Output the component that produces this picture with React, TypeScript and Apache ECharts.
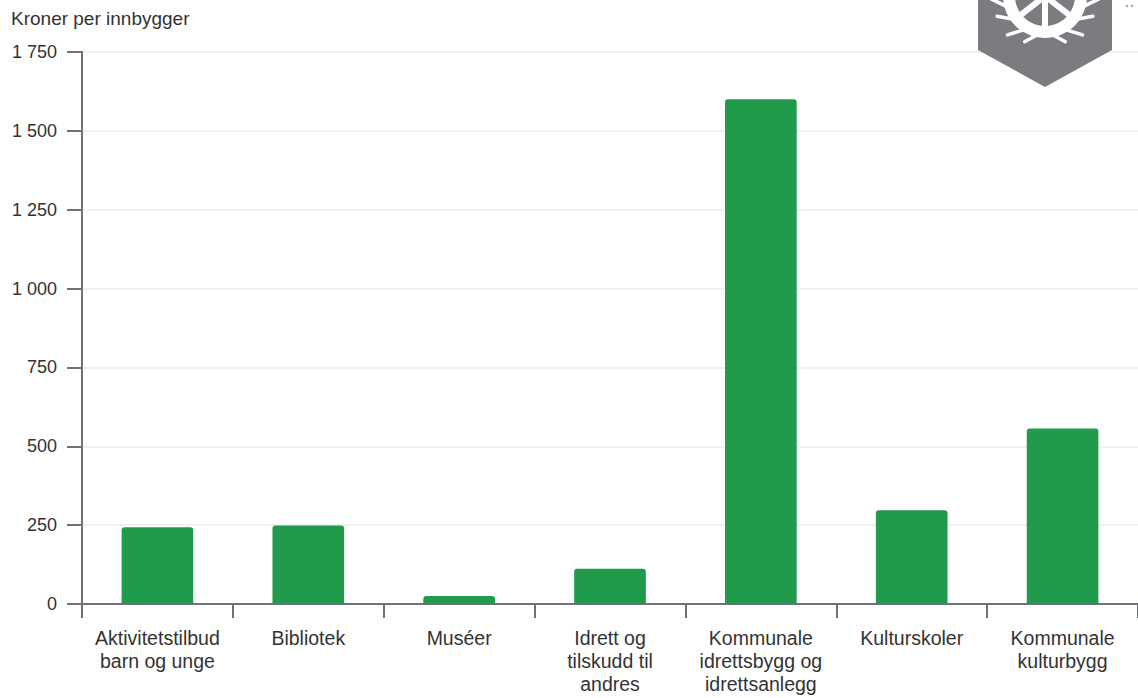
import React, { useEffect, useRef } from "react";
import * as echarts from "echarts";

const categories = [
  "Aktivitetstilbud\nbarn og unge",
  "Bibliotek",
  "Muséer",
  "Idrett og\ntilskudd til\nandres",
  "Kommunale\nidrettsbygg og\nidrettsanlegg",
  "Kulturskoler",
  "Kommunale\nkulturbygg",
];
const values = [243, 249, 25, 112, 1600, 297, 556];
const yTicks = { min: 0, max: 1750, interval: 250 };
const yTitle = "Kroner per innbygger";

const fmt = (v: number) => {
  const s = String(Math.round(v));
  return s.replace(/\B(?=(\d{3})+(?!\d))/g, " ");
};

export default function App() {
  const ref = useRef<HTMLDivElement>(null);
  useEffect(() => {
    if (!ref.current) return;
    const chart = echarts.init(ref.current, undefined, { renderer: "svg" });
    const axisGray = "#6d7378";
    const logoGray = "#7b7c80";
    const cx = 1045;
    const cy = -4;
    const spokes: any[] = [];
    [90, 38, 142].forEach((deg) => {
      const r = (deg * Math.PI) / 180;
      spokes.push({
        type: "line",
        shape: { x1: cx, y1: cy, x2: cx + Math.cos(r) * 38, y2: cy + Math.sin(r) * 38 },
        style: { stroke: "#fff", lineWidth: 6 },
        z: 12,
      });
    });
    const thorns: any[] = [];
    [[15, 14], [35, 12], [58, 14], [78, 10], [102, 10], [122, 14], [145, 12], [165, 14]].forEach(([deg, len]) => {
      const r = (deg * Math.PI) / 180;
      const r2 = ((deg + (deg < 90 ? -12 : 12)) * Math.PI) / 180;
      thorns.push({
        type: "line",
        shape: {
          x1: cx + Math.cos(r) * 40,
          y1: cy + Math.sin(r) * 40,
          x2: cx + Math.cos(r2) * (40 + len),
          y2: cy + Math.sin(r2) * (40 + len),
        },
        style: { stroke: "#fff", lineWidth: 3.5, lineCap: "round" },
        z: 12,
      });
    });
    const font = "Liberation Sans";
    chart.setOption({
      animation: false,
      title: {
        text: yTitle,
        left: 11,
        top: 9,
        padding: 0,
        textStyle: { fontFamily: font, fontSize: 19, fontWeight: "normal", color: "#333" },
      },
      grid: { left: 82, right: -3, top: 52, bottom: 94, containLabel: false },
      xAxis: {
        type: "category",
        data: categories,
        boundaryGap: true,
        axisLine: { show: true, lineStyle: { color: axisGray, width: 2 } },
        axisTick: { show: true, alignWithLabel: false, length: 14, lineStyle: { color: axisGray, width: 2 } },
        axisLabel: {
          interval: 0,
          margin: 22,
          fontFamily: font,
          fontSize: 19.5,
          lineHeight: 23,
          color: "#333",
          align: "center",
        },
      },
      yAxis: {
        type: "value",
        min: yTicks.min,
        max: yTicks.max,
        interval: yTicks.interval,
        axisLine: { show: true, lineStyle: { color: axisGray, width: 2 } },
        axisTick: { show: true, length: 15, lineStyle: { color: axisGray, width: 2 } },
        splitLine: { show: true, lineStyle: { color: "#ebebeb", width: 1.5 } },
        axisLabel: {
          margin: 25,
          fontFamily: font,
          fontSize: 18,
          color: "#333",
          formatter: (v: number) => fmt(v),
        },
      },
      series: [
        {
          type: "bar",
          data: values,
          barWidth: "47.5%",
          itemStyle: { color: "#1f9b4b", borderRadius: [3, 3, 0, 0] },
          z: 3,
        },
      ],
      graphic: [
        {
          type: "polygon",
          shape: { points: [[978, -30], [1112, -30], [1112, 50], [1045, 87], [978, 50]] },
          style: { fill: logoGray },
          z: 10,
        },
        {
          type: "ring",
          shape: { cx, cy, r: 42, r0: 30 },
          style: { fill: "#fff" },
          z: 11,
        },
        ...spokes,
        ...thorns,
        { type: "circle", shape: { cx: 1127, cy: 6, r: 1.3 }, style: { fill: "#aaa" }, z: 10 },
        { type: "circle", shape: { cx: 1132, cy: 6, r: 1.3 }, style: { fill: "#aaa" }, z: 10 },
      ],
    });
    return () => chart.dispose();
  }, []);
  return (
    <div
      ref={ref}
      style={{ position: "fixed", left: 0, top: 0, width: 1138, height: 698, background: "#fff" }}
    />
  );
}
